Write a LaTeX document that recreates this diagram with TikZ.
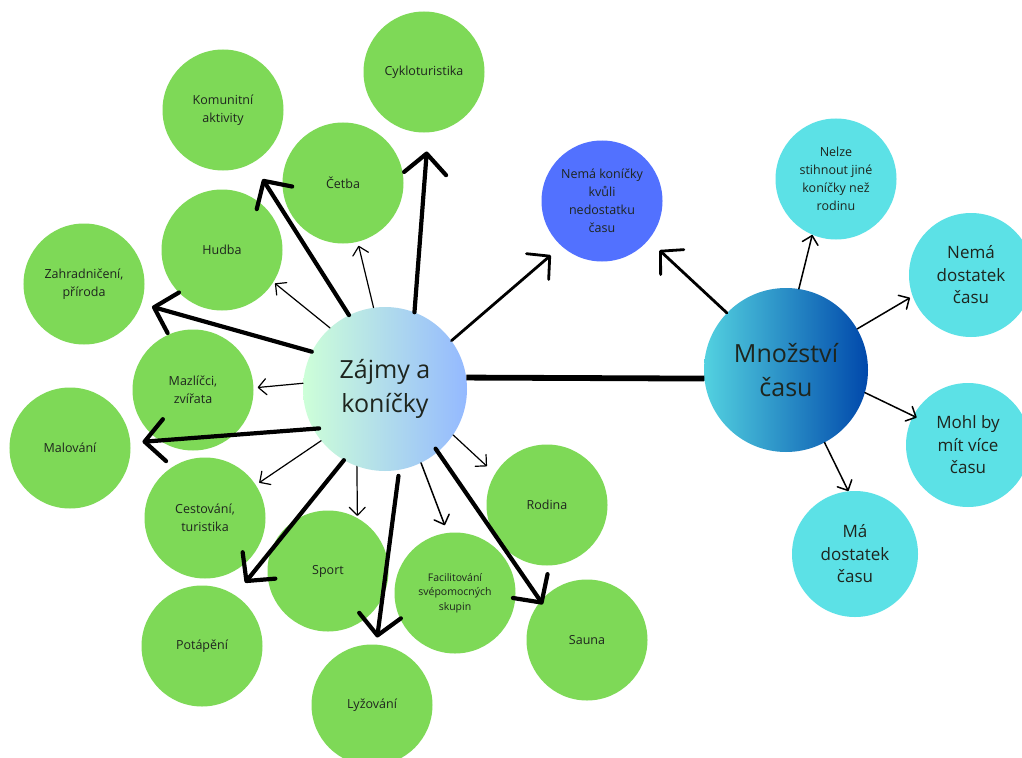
\documentclass[tikz,border=0pt]{standalone}
\usepackage{fontspec}
\setmainfont{Open Sans}
\usetikzlibrary{arrows.meta}

\definecolor{cLeaf}{HTML}{7ED957}
\definecolor{cAqua}{HTML}{5CE1E6}
\definecolor{cRoyal}{HTML}{5271FF}
\definecolor{cInk}{HTML}{1E251E}
\definecolor{cMint}{HTML}{CDFFD8}
\definecolor{cSky}{HTML}{94B9FF}
\definecolor{cNavy}{HTML}{0048AB}

\tikzset{
  bubble/.style={circle, inner sep=0pt, align=center, text=cInk},
  hobby/.style={bubble, fill=cLeaf, minimum size=121bp,
    font=\fontsize{12.5bp}{18bp}\selectfont},
  timebox/.style={bubble, fill=cAqua, minimum size=124bp,
    font=\fontsize{17bp}{22.5bp}\selectfont},
  hub/.style={bubble, minimum size=164bp,
    font=\fontsize{25bp}{34bp}\selectfont},
  arrHeavy/.style={draw=black, line width=4.2bp, line cap=round,
    -{Straight Barb[length=20bp,width=42bp,round]}},
  arrMid/.style={draw=black, line width=2.8bp, line cap=round,
    -{Straight Barb[length=16bp,width=34bp,round]}},
  arrLight/.style={draw=black, line width=1.2bp, line cap=round,
    -{Straight Barb[length=8bp,width=16bp,round]}},
}

\begin{document}
\begin{tikzpicture}[x=1bp,y=-1bp]
\clip (0,0) rectangle (1022,758);
\fill[white] (0,0) rectangle (1022,758);

% central topics
\node[hub, left color=cMint, right color=cSky] (zk) at (385,389) {Zájmy a\\koníčky};
\node[hub, left color=cAqua!90!cNavy, right color=cNavy] (mc) at (786,370) {Množství\\času};

% interests
\node[hobby] (cy)  at (424,72)  {Cykloturistika};
\node[hobby] (ko)  at (223,110) {Komunitní\\aktivity};
\node[hobby] (ce)  at (343,183) {Četba};
\node[hobby] (hu)  at (222,250) {Hudba};
\node[hobby] (za)  at (84,284)  {Zahradničení,\\příroda};
\node[hobby] (ma)  at (193,390) {Mazlíčci,\\zvířata};
\node[hobby] (mal) at (70,448)  {Malování};
\node[hobby] (ct)  at (205,518) {Cestování,\\turistika};
\node[hobby] (sp)  at (328,571) {Sport};
\node[hobby] (po)  at (202,646) {Potápění};
\node[hobby] (ly)  at (372,705) {Lyžování};
\node[hobby, font=\fontsize{10.5bp}{14.5bp}\selectfont] (fa) at (455,593) {Facilitování\\svépomocných\\skupin};
\node[hobby] (ro)  at (547,505) {Rodina};
\node[hobby] (sa)  at (587,640) {Sauna};

% time related
\node[hobby, fill=cRoyal] (nk) at (602,201) {Nemá koníčky\\kvůli\\nedostatku\\času};
\node[hobby, fill=cAqua] (ne) at (836,179) {Nelze\\stihnout jiné\\koníčky než\\rodinu};
\node[timebox] (nd) at (971,275) {Nemá\\dostatek\\času};
\node[timebox] (mv) at (968,445) {Mohl by\\mít více\\času};
\node[timebox, minimum size=126bp] (md) at (855,554) {Má\\dostatek\\času};

% link between the two hubs
\draw[line width=5.8bp] (zk.8) -- (mc.186);

% arrows from interests hub
\draw[arrHeavy, shorten >=19bp] (zk.69)  -- (cy.274);
\draw[arrHeavy, shorten >=19bp] (zk.116) -- (ko.299);
\draw[arrLight, shorten >=4bp]  (zk.98)  -- (ce.284);
\draw[arrLight, shorten >=2bp]  (zk.132) -- (hu.328);
\draw[arrHeavy, shorten >=11bp] (zk.153) -- (za.341);
\draw[arrLight, shorten >=4bp]  (zk.176) -- (ma.2);
\draw[arrHeavy, shorten >=12bp, shorten <=-6bp] (zk.209) -- (mal.5);
\draw[arrLight, shorten >=4bp]  (zk.219) -- (ct.33);
\draw[arrHeavy, shorten >=16bp] (zk.240) -- (po.57);
\draw[arrLight, shorten >=2bp]  (zk.250) -- (sp.61);
\draw[arrHeavy, shorten >=7bp, shorten <=6bp] (zk.280) -- (ly.86);
\draw[arrLight, line width=1.5bp, shorten >=8bp] (zk.296) -- (fa.97);
\draw[arrHeavy, shorten >=-4bp, shorten <=-4bp] (zk.310) -- (sa.140);
\draw[arrLight, shorten >=11bp] (zk.326) -- (ro.149);
\draw[arrMid, shorten >=14bp]   (zk.36)  -- (nk.228);

% arrows from time hub
\draw[arrMid, shorten >=15bp]   (mc.136) -- (nk.320);
\draw[arrLight, line width=1.5bp] (mc.81) -- (ne.247);
\draw[arrLight, line width=1.5bp, shorten >=3bp] (mc.30) -- (nd.200);
\draw[arrLight, line width=1.5bp, shorten >=-4bp] (mc.344) -- (mv.152);
\draw[arrLight, line width=1.5bp] (mc.298) -- (md.96);
\end{tikzpicture}
\end{document}
